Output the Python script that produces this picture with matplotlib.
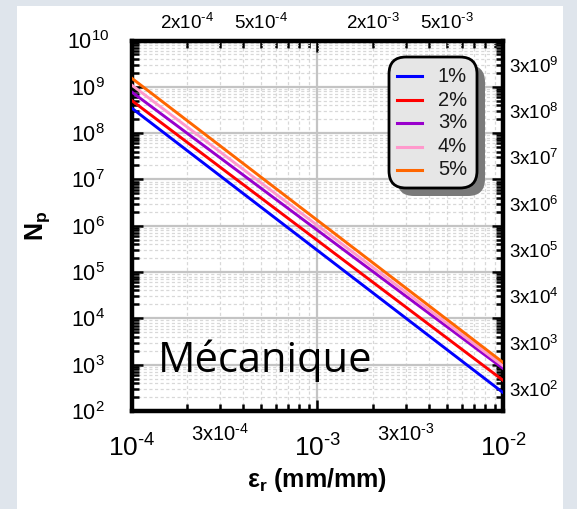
import matplotlib.pyplot as plt
import numpy as np
from matplotlib.lines import Line2D
from matplotlib.patches import FancyBboxPatch, Rectangle
from matplotlib.ticker import FixedLocator, FuncFormatter, LogLocator, NullFormatter, NullLocator

plt.rcParams["font.family"] = ["Liberation Sans", "DejaVu Sans"]
plt.rcParams["mathtext.fontset"] = "custom"
plt.rcParams["mathtext.rm"] = "Liberation Sans"
plt.rcParams["mathtext.it"] = "Liberation Sans:italic"
plt.rcParams["mathtext.bf"] = "Liberation Sans:bold"
plt.rcParams["mathtext.default"] = "regular"

# strain amplitude (mm/mm) at both ends of the range
STRAIN = [1e-4, 1e-2]
# cycles to failure for each damage level
NP_1PCT = [3.5e8, 2.5e2]
NP_2PCT = [5.1e8, 4.6e2]
NP_3PCT = [7.8e8, 8.3e2]
NP_4PCT = [1.1e9, 9.5e2]
NP_5PCT = [1.55e9, 1.12e3]

SERIES = [NP_1PCT, NP_2PCT, NP_3PCT, NP_4PCT, NP_5PCT]
SERIES_LABELS = ["1%", "2%", "3%", "4%", "5%"]
SERIES_COLORS = ["#0000ff", "#ff0000", "#9900cc", "#ff99cc", "#ff6600"]

X_DECADES = [1e-4, 1e-3, 1e-2]
TOP_TICKS = [2e-4, 5e-4, 2e-3, 5e-3]
Y_DECADES = [10.0 ** k for k in range(2, 11)]
RIGHT_TICKS = [3 * 10.0 ** k for k in range(2, 10)]

W, H = 577, 509


def sci_label(v, pos=None):
    exp = int(np.floor(np.log10(v) + 1e-9))
    mant = int(round(v / 10.0 ** exp))
    e = (r"\text{-}%d" % -exp) if exp < 0 else "%d" % exp
    if mant == 1:
        return r"$10^{%s}$" % e
    return r"$%dx10^{%s}$" % (mant, e)


def three_only(v, pos=None):
    exp = int(np.floor(np.log10(v) + 1e-9))
    mant = int(round(v / 10.0 ** exp))
    return sci_label(v) if mant == 3 else ""


def px(x, y):
    # pixel position (from top-left) to inches for dpi_scale_trans
    return x / 100.0, (H - y) / 100.0


fig = plt.figure(figsize=(W / 100, H / 100), dpi=100)
fig.patch.set_facecolor("#dfe5ec")
fig.add_artist(Rectangle((17 / W, 0), (563 - 17) / W, 1 - 6 / H,
                         transform=fig.transFigure, facecolor="white",
                         edgecolor="none", zorder=-10))

ax = fig.add_axes([131.5 / W, 1 - 411 / H, 371.5 / W, 370.5 / H])
ax.set_xscale("log")
ax.set_yscale("log")
ax.set_xlim(1e-4, 1e-2)
ax.set_ylim(1e2, 1e10)

for vals, lab, col in zip(SERIES, SERIES_LABELS, SERIES_COLORS):
    ax.plot(STRAIN, vals, color=col, lw=2.1, label=lab, zorder=3)

ax.xaxis.set_major_locator(FixedLocator(X_DECADES))
ax.xaxis.set_minor_locator(LogLocator(base=10, subs=np.arange(2, 10), numticks=50))
ax.xaxis.set_major_formatter(FuncFormatter(sci_label))
ax.xaxis.set_minor_formatter(FuncFormatter(three_only))
ax.yaxis.set_major_locator(FixedLocator(Y_DECADES))
ax.yaxis.set_minor_locator(LogLocator(base=10, subs=np.arange(2, 10), numticks=50))
ax.yaxis.set_major_formatter(FuncFormatter(sci_label))
ax.yaxis.set_minor_formatter(NullFormatter())

ax.tick_params(which="both", direction="in", top=True, right=True, width=1.8, color="black")
ax.tick_params(which="major", length=8)
ax.tick_params(which="minor", length=5)
ax.tick_params(axis="x", which="major", labelsize=19, pad=17)
ax.tick_params(axis="x", which="minor", labelsize=14.5, pad=8.5)
ax.tick_params(axis="y", which="major", labelsize=15.5, pad=31.5)
plt.setp(ax.get_yticklabels(), ha="center")

for sp in ax.spines.values():
    sp.set_linewidth(3.2)

ax.set_axisbelow(True)
ax.grid(which="major", color="#c4c4c4", lw=1.6, ls="-")
ax.grid(which="minor", color="#d8d8d8", lw=0.9, ls=(0, (2.5, 2)))

# top and right scales carry the intermediate values
top = ax.secondary_xaxis("top")
top.xaxis.set_major_locator(FixedLocator(TOP_TICKS))
top.xaxis.set_minor_locator(NullLocator())
top.xaxis.set_major_formatter(FuncFormatter(sci_label))
top.tick_params(length=0, labelsize=13.5, pad=5.5)
for sp in top.spines.values():
    sp.set_visible(False)

right = ax.secondary_yaxis("right")
right.yaxis.set_major_locator(FixedLocator(RIGHT_TICKS))
right.yaxis.set_minor_locator(NullLocator())
right.yaxis.set_major_formatter(FuncFormatter(sci_label))
right.tick_params(length=0, labelsize=13.5, pad=4.5)
for sp in right.spines.values():
    sp.set_visible(False)

ax.set_xlabel(r"$\varepsilon_{\mathbf{r}}$ (mm/mm)", fontsize=18, fontweight="bold")
ax.xaxis.set_label_coords(0.5, (411 - 466) / 370.5)
ax.set_ylabel(r"$\mathbf{N_p}$", fontsize=18)
ax.yaxis.set_label_coords((38 - 131.5) / 371.5, 0.5)
ax.yaxis.label.set_va("center")

ax.text((158 - 131.5) / 371.5, (411 - 372) / 370.5, "Mécanique",
        transform=ax.transAxes, fontsize=30, family=["Open Sans", "DejaVu Sans"],
        ha="left", va="baseline", zorder=4)

# rounded legend box with drop shadow
bx0, by0 = px(389, 188)
bw, bh = (477 - 389) / 100, (188 - 57) / 100
shadow = FancyBboxPatch((bx0 + 0.08, by0 - 0.08), bw, bh,
                        boxstyle="round,pad=0,rounding_size=0.17",
                        transform=fig.dpi_scale_trans, facecolor="#7a7a7a",
                        edgecolor="none", zorder=5)
box = FancyBboxPatch((bx0, by0), bw, bh,
                     boxstyle="round,pad=0,rounding_size=0.17",
                     transform=fig.dpi_scale_trans, facecolor="#e6e6e6",
                     edgecolor="black", lw=2.0, zorder=6)
fig.add_artist(shadow)
fig.add_artist(box)
row_y = [76, 100, 123, 146.5, 169.5]
for yy, lab, col in zip(row_y, SERIES_LABELS, SERIES_COLORS):
    x1, y1 = px(397, yy)
    x2, _ = px(422, yy)
    fig.add_artist(Line2D([x1, x2], [y1, y1], color=col, lw=2.2,
                          transform=fig.dpi_scale_trans, zorder=7))
    tx, ty = px(467, yy)
    fig.text(tx, ty, lab, transform=fig.dpi_scale_trans, fontsize=14.5,
             ha="right", va="center", color="#1a1a1a", zorder=7)

fig.savefig("out.png", dpi=100, facecolor=fig.get_facecolor())
